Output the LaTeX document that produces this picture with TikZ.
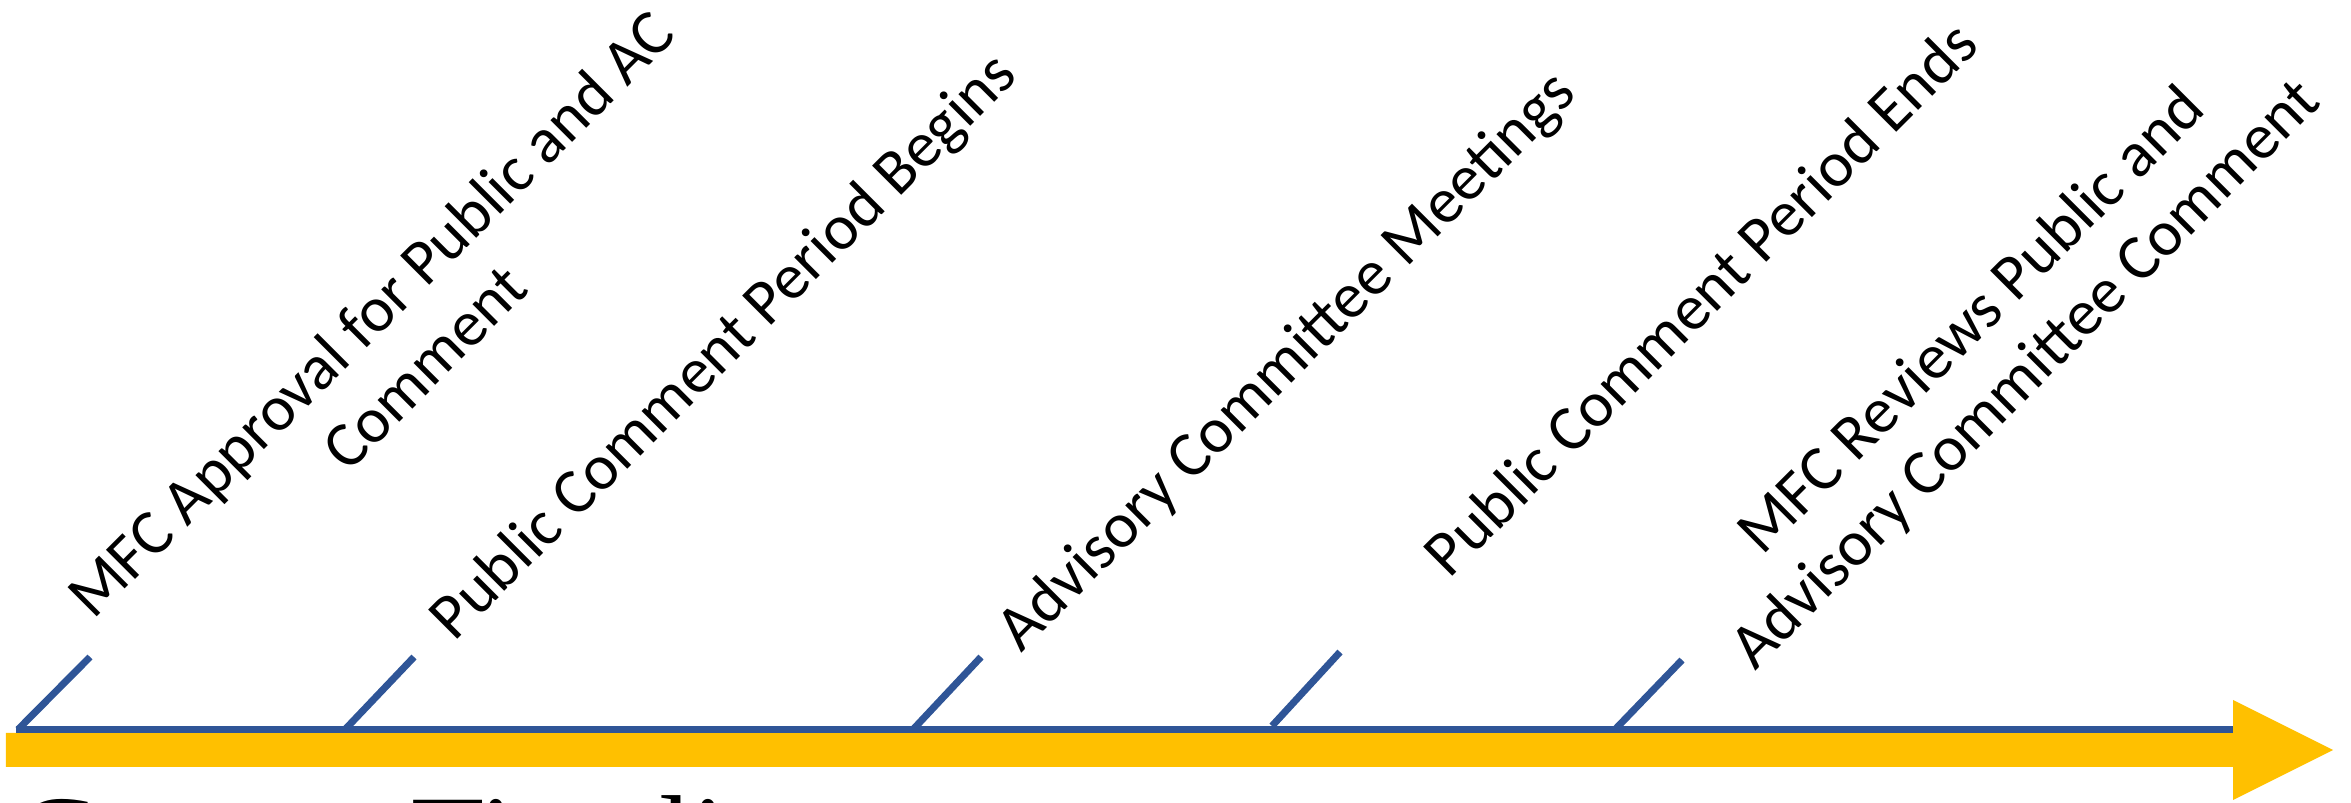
\documentclass[tikz,border=0pt]{standalone}
\usepackage{fontspec}
\newfontfamily\labelfont{Carlito}
\newfontfamily\titlefont{Liberation Serif}
\usepackage{tikz}
\usetikzlibrary{calc, positioning}
\definecolor{tlgold}{HTML}{FFC000}
\definecolor{tlblue}{HTML}{2F5597}

\begin{document}
\begin{tikzpicture}[
        evt/.style={rotate=45, align=center, inner sep=0pt, font=\labelfont\fontsize{18.3}{21.5}\selectfont},
        tick/.style={tlblue, line width=0.07cm},
    ]
        \useasboundingbox (0,0) rectangle (23.51,8.03);
        \clip (0,0) rectangle (23.51,8.03);
        % timeline arrow
        \fill[tlgold] (0.06,0.36) -- (22.33,0.36) -- (22.33,0.03) -- (23.33,0.53)
            -- (22.33,1.03) -- (22.33,0.70) -- (0.06,0.70) -- cycle;
        \coordinate (start) at (0.16,0.735);
        \coordinate (end) at (22.33,0.735);
        \draw[tick] (start) -- (end);

        % ticks
        \coordinate (b1) at (0.18,0.735);  \coordinate (t1) at (0.90,1.46);
        \coordinate (b2) at (3.45,0.735);  \coordinate (t2) at (4.14,1.46);
        \coordinate (b3) at (9.13,0.735);  \coordinate (t3) at (9.81,1.46);
        \coordinate (b4) at (12.72,0.77);  \coordinate (t4) at (13.40,1.51);
        \coordinate (b5) at (16.15,0.735); \coordinate (t5) at (16.82,1.43);
        \draw[tick] (b1) -- (t1);
        \draw[tick] (b2) -- (t2);
        \draw[tick] (b3) -- (t3);
        \draw[tick] (b4) -- (t4);
        \draw[tick] (b5) -- (t5);

        \node[evt] at (3.97,4.63) (napproval) {MFC Approval for Public and AC\\Comment};
        \node[evt] at (7.25,4.55) (nbegins) {Public Comment Period Begins};
        \node[evt] at (12.88,4.40) (nmeetings) {Advisory Committee Meetings};
        \node[evt] at (17.00,5.05) (nends) {Public Comment Period Ends};
        \node[evt] at (20.00,4.54) (nreviews) {MFC Reviews Public and\\Advisory Committee Comment};

        \node[anchor=base west, inner sep=0pt, font=\titlefont\fontsize{34}{40}\selectfont] at (0.16,-0.75) (ntitle) {Current Timeline};
    \end{tikzpicture}
\end{document}
